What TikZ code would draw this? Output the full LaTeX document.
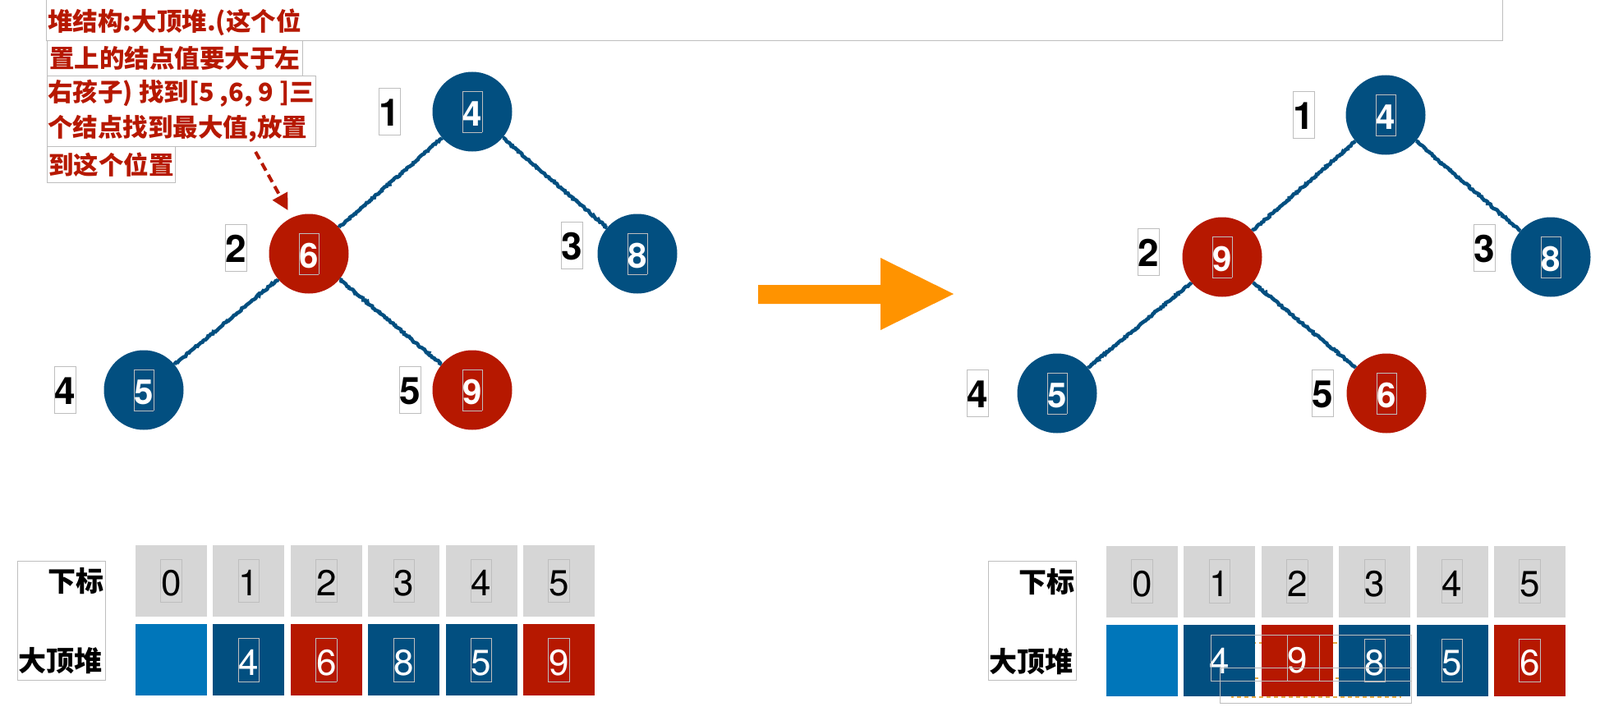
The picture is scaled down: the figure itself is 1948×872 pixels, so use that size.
\documentclass[tikz,border=0pt]{standalone}
\usepackage{fontspec}
\setmainfont{TeX Gyre Heros}
\newfontfamily\cjk{Noto Sans CJK SC}
\usepackage{tikz}
\usetikzlibrary{arrows.meta, positioning, decorations.pathmorphing}

\definecolor{heapblue}{RGB}{2,79,128}
\definecolor{heapred}{RGB}{182,24,0}
\definecolor{emptyblue}{RGB}{0,118,186}
\definecolor{cellgray}{RGB}{214,214,214}
\definecolor{framegray}{RGB}{190,190,190}
\definecolor{tangerine}{RGB}{255,147,0}
\definecolor{ghostorange}{RGB}{228,170,70}

% digit with the thin grey frame round it
\newcommand{\numbox}[2][white]{{\color{framegray}\setlength{\fboxsep}{0pt}\setlength{\fboxrule}{0.8pt}\fbox{\rule[-0.17em]{0pt}{1.17em}\color{#1}#2}}}
\newcommand{\idxbox}[1]{{\color{framegray}\setlength{\fboxsep}{0pt}\setlength{\fboxrule}{0.8pt}\fbox{\rule[-0.22em]{0pt}{1.22em}\color{black}#1}}}

\begin{document}
\begin{tikzpicture}[
    x=1pt, y=-1pt,
    node distance=7pt and 7pt,
    heapnode/.style={circle, fill=heapblue, minimum size=97pt, inner sep=0pt, font=\bfseries\fontsize{42}{42}\selectfont},
    hotnode/.style={heapnode, fill=heapred},
    idx/.style={inner sep=0pt, font=\bfseries\fontsize{46}{46}\selectfont},
    branch/.style={heapblue, line width=4.5pt, decorate, decoration={random steps, segment length=2pt, amplitude=1pt}},
    pointer/.style={heapred, line width=4pt, dash pattern=on 10pt off 6pt, shorten <=7pt, shorten >=10pt, -{Triangle[length=20pt, width=20pt]}},
    note/.style={draw=framegray, line width=0.8pt, anchor=north west, inner xsep=1pt, inner ysep=0pt, align=left, text=heapred, font=\cjk\bfseries\fontsize{30.5}{43}\selectfont},
    tag/.style={inner sep=0pt, anchor=east, font=\cjk\bfseries\fontsize{34}{34}\selectfont},
    tagbox/.style={draw=framegray, line width=0.8pt, minimum width=107pt, minimum height=145pt, inner sep=0pt},
    cell/.style={minimum size=87pt, inner sep=0pt, font=\fontsize{44}{44}\selectfont},
    idxcell/.style={cell, fill=cellgray},
    bluecell/.style={cell, fill=heapblue},
    redcell/.style={cell, fill=heapred},
    rootcell/.style={cell, fill=emptyblue},
    ghost/.style={draw=framegray, line width=0.8pt}
]
    \useasboundingbox (0,0) rectangle (1948,872);

    % note on top
    \draw[framegray, line width=0.8pt] (56,-10) rectangle (1829,49);
    \node[note, draw=none, anchor=west] (note1) at (57,27) {堆结构:大顶堆.(这个位};
    \node[note, minimum width=311pt, minimum height=43pt] (note2) at (57,49) {置上的结点值要大于左};
    \node[note, minimum width=320pt, minimum height=86pt] (note3) at (57,92) {右孩子) 找到[5 ,6, 9 ]三\\个结点找到最大值,放置};
    \node[note, minimum width=156pt, minimum height=44pt] (note4) at (57,178) {到这个位置};

    % heap before
    \node[heapnode] (L1) at (575,136) {\numbox{4}};
    \node[hotnode] (L2) at (376,309) {\numbox{6}};
    \node[heapnode] (L3) at (776,309) {\numbox{8}};
    \node[heapnode] (L4) at (175,475) {\numbox{5}};
    \node[hotnode] (L5) at (575,475) {\numbox{9}};
    \node[idx, left=38pt of L1] (n1) {\idxbox{1}};
    \node[idx, left=26pt of L2, yshift=7pt] (n2) {\idxbox{2}};
    \node[idx, left=17pt of L3, yshift=10pt] (n3) {\idxbox{3}};
    \node[idx, left=33pt of L4] (n4) {\idxbox{4}};
    \node[idx, left=13pt of L5] (n5) {\idxbox{5}};
    \draw[branch] (L1) -- (L2);
    \draw[branch] (L1) -- (L3);
    \draw[branch] (L2) -- (L4);
    \draw[branch] (L2) -- (L5);
    \draw[pointer] ([xshift=87pt]note3.south) -- (L2.115);

    % heap after
    \node[heapnode] (R1) at (1687,140) {\numbox{4}};
    \node[hotnode] (R2) at (1488,313) {\numbox{9}};
    \node[heapnode] (R3) at (1888,313) {\numbox{8}};
    \node[heapnode] (R4) at (1287,479) {\numbox{5}};
    \node[hotnode] (R5) at (1688,479) {\numbox{6}};
    \node[idx, left=37pt of R1] (m1) {\idxbox{1}};
    \node[idx, left=27pt of R2, yshift=6pt] (m2) {\idxbox{2}};
    \node[idx, left=18pt of R3, yshift=11pt] (m3) {\idxbox{3}};
    \node[idx, left=34pt of R4] (m4) {\idxbox{4}};
    \node[idx, left=15pt of R5] (m5) {\idxbox{5}};
    \draw[branch] (R1) -- (R2);
    \draw[branch] (R1) -- (R3);
    \draw[branch] (R2) -- (R4);
    \draw[branch] (R2) -- (R5);

    % big arrow
    \fill[tangerine] (923,347) -- (1072,347) -- (1072,314) -- (1161,358) -- (1072,402) -- (1072,370) -- (923,370) -- cycle;

    % array before
    \node[tagbox] (tagL) at (74.5,755.5) {};
    \node[tag] (subL) at (127,708) {下标};
    \node[tag] (heapL) at (125,805) {大顶堆};
    \node[idxcell] (i0) at (208.5,707.5) {\numbox[black]{0}};
    \node[idxcell, right=of i0] (i1) {\numbox[black]{1}};
    \node[idxcell, right=of i1] (i2) {\numbox[black]{2}};
    \node[idxcell, right=of i2] (i3) {\numbox[black]{3}};
    \node[idxcell, right=of i3] (i4) {\numbox[black]{4}};
    \node[idxcell, right=of i4] (i5) {\numbox[black]{5}};
    \node[rootcell, below=9pt of i0] (h0) {};
    \node[bluecell, right=of h0] (h1) {\numbox{4}};
    \node[redcell, right=of h1] (h2) {\numbox{6}};
    \node[bluecell, right=of h2] (h3) {\numbox{8}};
    \node[bluecell, right=of h3] (h4) {\numbox{5}};
    \node[redcell, right=of h4] (h5) {\numbox{9}};

    % array after
    \draw[ghostorange, line width=1.5pt, dash pattern=on 5pt off 4pt] (1500,783) rectangle (1705,849);
    \draw[ghostorange, line width=1.5pt, dash pattern=on 5pt off 4pt] (1500,826) -- (1705,826);
    \node[tagbox] (tagR) at (1256.5,756) {};
    \node[tag] (subR) at (1309,709) {下标};
    \node[tag] (heapR) at (1307,806) {大顶堆};
    \node[idxcell] (ri0) at (1390.5,708) {\numbox[black]{0}};
    \node[idxcell, right=of ri0] (ri1) {\numbox[black]{1}};
    \node[idxcell, right=of ri1] (ri2) {\numbox[black]{2}};
    \node[idxcell, right=of ri2] (ri3) {\numbox[black]{3}};
    \node[idxcell, right=of ri3] (ri4) {\numbox[black]{4}};
    \node[idxcell, right=of ri4] (ri5) {\numbox[black]{5}};
    \node[rootcell, below=9pt of ri0] (rh0) {};
    \node[bluecell, right=of rh0, text=white] (rh1) {4};
    \node[redcell, right=of rh1, text=white] (rh2) {9};
    \node[bluecell, right=of rh2] (rh3) {\numbox{8}};
    \node[bluecell, right=of rh3] (rh4) {\numbox{5}};
    \node[redcell, right=of rh4] (rh5) {\numbox{6}};
    \draw[ghost] (1474,773) rectangle (1718,829);
    \draw[ghost] (1485,813) rectangle (1718,856);
    \draw[ghost] (1567,773) rectangle (1606,829);
\end{tikzpicture}
\end{document}
